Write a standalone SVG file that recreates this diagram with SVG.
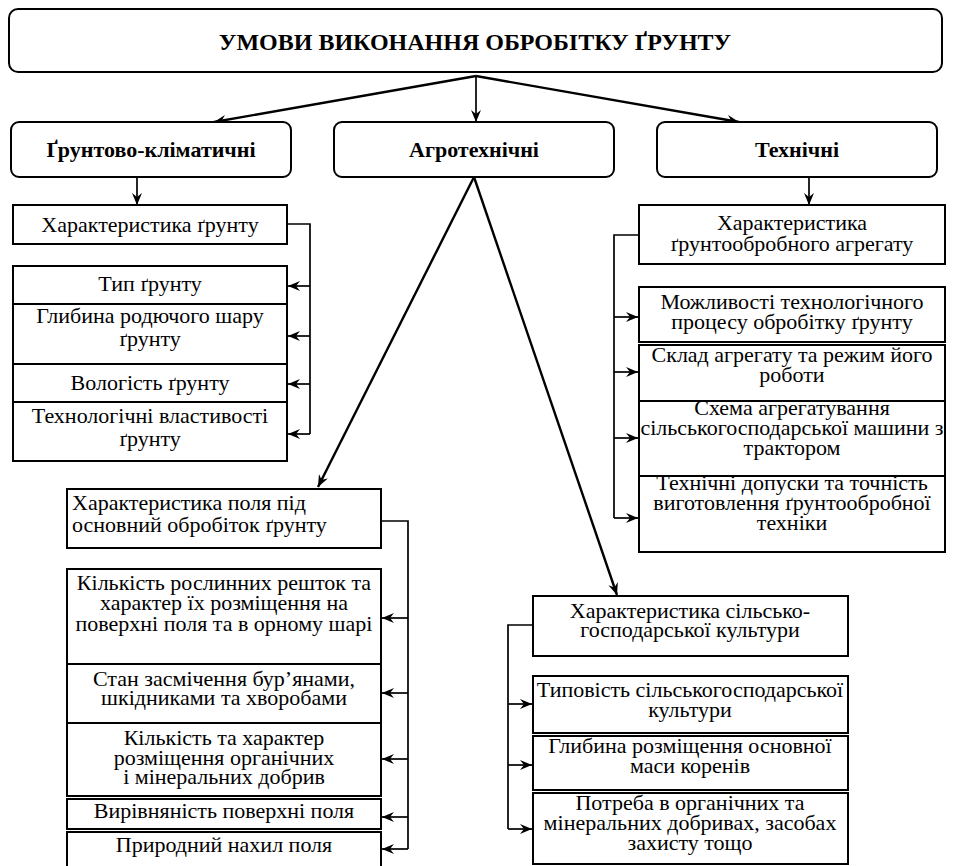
<svg xmlns="http://www.w3.org/2000/svg" width="953" height="866" viewBox="0 0 953 866">
<defs>
<marker id="ah" viewBox="0 0 12 10" refX="12" refY="5" markerWidth="12" markerHeight="10" markerUnits="userSpaceOnUse" orient="auto"><path d="M0,0 L12,5 L0,10 L4,5 z" fill="#000"/></marker>
<style>
.b{fill:#fff;stroke:#000;stroke-width:2}
text{font-size:22px;text-anchor:middle;fill:#000}
.h{font-weight:bold;font-size:22px}
.l{text-anchor:start}
.c{fill:none;stroke:#000;stroke-width:1.7}
.d{fill:none;stroke:#000;stroke-width:2.4}
</style>
</defs>
<rect width="953" height="866" fill="#fff"/>
<g id="connectors">
<path class="d" d="M476,76 L214,122" marker-end="url(#ah)"/>
<path class="c" d="M476,76 L476,122" marker-end="url(#ah)"/>
<path class="d" d="M476,76 L739,122" marker-end="url(#ah)"/>
<path class="c" d="M137,177 L137,205" marker-end="url(#ah)"/>
<path class="c" d="M809,177 L809,205" marker-end="url(#ah)"/>
<path class="d" d="M474,177 L318,487" marker-end="url(#ah)"/>
<path class="d" d="M474,177 L617,595" marker-end="url(#ah)"/>
<path class="c" d="M287,224 L310,224 L310,434"/>
<path class="c" d="M310,286 L288,286" marker-end="url(#ah)"/>
<path class="c" d="M310,336 L288,336" marker-end="url(#ah)"/>
<path class="c" d="M310,384 L288,384" marker-end="url(#ah)"/>
<path class="c" d="M310,434 L288,434" marker-end="url(#ah)"/>
<path class="c" d="M639,235 L614,235 L614,518"/>
<path class="c" d="M614,317 L638,317" marker-end="url(#ah)"/>
<path class="c" d="M614,372 L638,372" marker-end="url(#ah)"/>
<path class="c" d="M614,438 L638,438" marker-end="url(#ah)"/>
<path class="c" d="M614,518 L638,518" marker-end="url(#ah)"/>
<path class="c" d="M381,521 L408,521 L408,849"/>
<path class="c" d="M408,618 L382,618" marker-end="url(#ah)"/>
<path class="c" d="M408,693 L382,693" marker-end="url(#ah)"/>
<path class="c" d="M408,759 L382,759" marker-end="url(#ah)"/>
<path class="c" d="M408,817 L382,817" marker-end="url(#ah)"/>
<path class="c" d="M408,849 L382,849" marker-end="url(#ah)"/>
<path class="c" d="M533,625 L508,625 L508,829"/>
<path class="c" d="M508,704 L532,704" marker-end="url(#ah)"/>
<path class="c" d="M508,765 L532,765" marker-end="url(#ah)"/>
<path class="c" d="M508,829 L532,829" marker-end="url(#ah)"/>
</g>
<g font-family="Liberation Serif, Times New Roman, serif">
<g id="title"><rect class="b" x="9" y="9" width="933" height="63" rx="9"/><text class="h" x="475" y="50" style="font-size:24px">УМОВИ ВИКОНАННЯ ОБРОБІТКУ ҐРУНТУ</text></g>
<g id="soil"><rect class="b" x="11" y="122" width="280" height="55" rx="8"/><text class="h" x="151" y="157">Ґрунтово-кліматичні</text></g>
<g id="agro"><rect class="b" x="334" y="122" width="280" height="55" rx="8"/><text class="h" x="474" y="157">Агротехнічні</text></g>
<g id="tech"><rect class="b" x="657" y="122" width="280" height="55" rx="8"/><text class="h" x="797" y="157">Технічні</text></g>

<g id="soil-char"><rect class="b" x="13" y="205" width="274" height="39"/><text x="150" y="232">Характеристика ґрунту</text></g>
<g id="soil-type"><rect class="b" x="13" y="266" width="274" height="38"/><text x="150" y="291">Тип ґрунту</text></g>
<g id="soil-depth"><rect class="b" x="13" y="304" width="274" height="60"/><text x="150" y="323">Глибина родючого шару</text><text x="150" y="346">ґрунту</text></g>
<g id="soil-moist"><rect class="b" x="13" y="364" width="274" height="38"/><text x="150" y="390">Вологість ґрунту</text></g>
<g id="soil-tech"><rect class="b" x="13" y="402" width="274" height="59"/><text x="150" y="423">Технологічні властивості</text><text x="150" y="446">ґрунту</text></g>

<g id="tech-char"><rect class="b" x="639" y="205" width="306" height="59"/><text x="792" y="230">Характеристика</text><text x="792" y="251">ґрунтообробного агрегату</text></g>
<g id="tech-1"><rect class="b" x="639" y="287" width="306" height="55"/><text x="792" y="309">Можливості технологічного</text><text x="792" y="329">процесу обробітку ґрунту</text></g>
<g id="tech-2"><rect class="b" x="639" y="345" width="306" height="56"/><text x="792" y="362">Склад агрегату та режим його</text><text x="792" y="382">роботи</text></g>
<g id="tech-3"><rect class="b" x="639" y="401" width="306" height="75"/><text x="792" y="415">Схема агрегатування</text><text x="792" y="435">сільськогосподарської машини з</text><text x="792" y="455">трактором</text></g>
<g id="tech-4"><rect class="b" x="639" y="476" width="306" height="76"/><text x="792" y="490">Технічні допуски та точність</text><text x="792" y="510">виготовлення ґрунтообробної</text><text x="792" y="530">техніки</text></g>

<g id="field-char"><rect class="b" x="67" y="489" width="314" height="59"/><text class="l" x="72" y="510">Характеристика поля під</text><text class="l" x="72" y="532">основний обробіток ґрунту</text></g>
<g id="field-1"><rect class="b" x="67" y="569" width="314" height="95"/><text x="224" y="590">Кількість рослинних решток та</text><text x="224" y="610">характер їх розміщення на</text><text x="224" y="631">поверхні поля та в орному шарі</text></g>
<g id="field-2"><rect class="b" x="67" y="664" width="314" height="59"/><text x="224" y="686">Стан засмічення бур’янами,</text><text x="224" y="705">шкідниками та хворобами</text></g>
<g id="field-3"><rect class="b" x="67" y="723" width="314" height="73"/><text x="224" y="745">Кількість та характер</text><text x="224" y="765">розміщення органічних</text><text x="224" y="784">і мінеральних добрив</text></g>
<g id="field-4"><rect class="b" x="67" y="799" width="314" height="30"/><text x="224" y="818">Вирівняність поверхні поля</text></g>
<g id="field-5"><rect class="b" x="67" y="832" width="314" height="40"/><text x="224" y="852">Природний нахил поля</text></g>

<g id="crop-char"><rect class="b" x="533" y="596" width="315" height="60"/><text x="690" y="618">Характеристика сільсько-</text><text x="690" y="637">господарської культури</text></g>
<g id="crop-1"><rect class="b" x="533" y="676" width="315" height="57"/><text x="690" y="697">Типовість сільськогосподарської</text><text x="690" y="717">культури</text></g>
<g id="crop-2"><rect class="b" x="533" y="736" width="315" height="54"/><text x="690" y="753">Глибина розміщення основної</text><text x="690" y="773">маси коренів</text></g>
<g id="crop-3"><rect class="b" x="533" y="793" width="315" height="71"/><text x="690" y="810">Потреба в органічних та</text><text x="690" y="830">мінеральних добривах, засобах</text><text x="690" y="850">захисту тощо</text></g>
</g>
</svg>
